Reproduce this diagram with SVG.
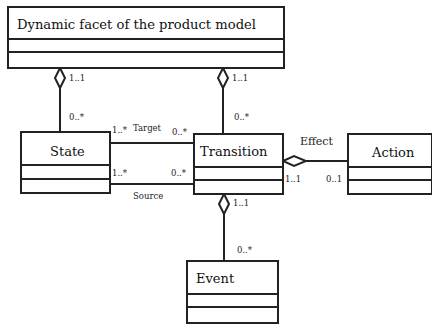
<svg xmlns="http://www.w3.org/2000/svg" width="432" height="326" viewBox="0 0 432 326">
<style>
.box{fill:#fff;stroke:#222;stroke-width:2}
.ln{stroke:#222;stroke-width:2;fill:none}
.dia{fill:#fff;stroke:#222;stroke-width:2}
text{font-family:'DejaVu Serif','Liberation Serif',serif;font-weight:normal;fill:#111}
.t{font-size:13px}
.s{font-size:8.5px;fill:#222}
</style>
<rect width="432" height="326" fill="#fff"/>
<g id="connectors">
<line class="ln" x1="60" y1="88" x2="60" y2="132"/>
<polygon class="dia" points="60,68 65,78 60,88 55,78"/>
<line class="ln" x1="223" y1="88" x2="223" y2="134"/>
<polygon class="dia" points="223,68 228,78 223,88 218,78"/>
<line class="ln" x1="110" y1="143" x2="194" y2="143"/>
<line class="ln" x1="110" y1="184" x2="194" y2="184"/>
<line class="ln" x1="306" y1="161" x2="348" y2="161"/>
<polygon class="dia" points="283,161 294,156 306,161 294,166"/>
<line class="ln" x1="224" y1="214" x2="224" y2="261"/>
<polygon class="dia" points="224,194 229,204 224,214 219,204"/>
<text class="s" x="69" y="81">1..1</text>
<text class="s" x="69" y="120">0..*</text>
<text class="s" x="232" y="81">1..1</text>
<text class="s" x="234" y="120">0..*</text>
<text class="s" x="112" y="133">1..*</text>
<text class="s" x="133" y="131">Target</text>
<text class="s" x="172" y="135">0..*</text>
<text class="s" x="112" y="176">1..*</text>
<text class="s" x="171" y="176">0..*</text>
<text class="s" x="133" y="199">Source</text>
<text class="s" x="300" y="145" style="font-size:11px">Effect</text>
<text class="s" x="285" y="182">1..1</text>
<text class="s" x="326" y="182">0..1</text>
<text class="s" x="233" y="206">1..1</text>
<text class="s" x="237" y="253">0..*</text>
</g>
<g id="dynamic">
<rect class="box" x="8" y="7" width="276" height="61"/>
<line class="ln" x1="8" y1="39" x2="284" y2="39"/>
<line class="ln" x1="8" y1="52" x2="284" y2="52"/>
<text class="t" x="17" y="29" textLength="239" lengthAdjust="spacingAndGlyphs">Dynamic facet of the product model</text>
</g>
<g id="state">
<rect class="box" x="21" y="132" width="89" height="61"/>
<line class="ln" x1="21" y1="165" x2="110" y2="165"/>
<line class="ln" x1="21" y1="179" x2="110" y2="179"/>
<text class="t" x="50" y="156">State</text>
</g>
<g id="transition">
<rect class="box" x="194" y="134" width="89" height="60"/>
<line class="ln" x1="194" y1="167" x2="283" y2="167"/>
<line class="ln" x1="194" y1="180" x2="283" y2="180"/>
<text class="t" x="200" y="156">Transition</text>
</g>
<g id="action">
<rect class="box" x="348" y="134" width="84" height="60"/>
<line class="ln" x1="348" y1="167" x2="432" y2="167"/>
<line class="ln" x1="348" y1="180" x2="432" y2="180"/>
<text class="t" x="372" y="157">Action</text>
</g>
<g id="event">
<rect class="box" x="187" y="261" width="91" height="62"/>
<line class="ln" x1="187" y1="294" x2="278" y2="294"/>
<line class="ln" x1="187" y1="307" x2="278" y2="307"/>
<text class="t" x="196" y="283">Event</text>
</g>
</svg>
